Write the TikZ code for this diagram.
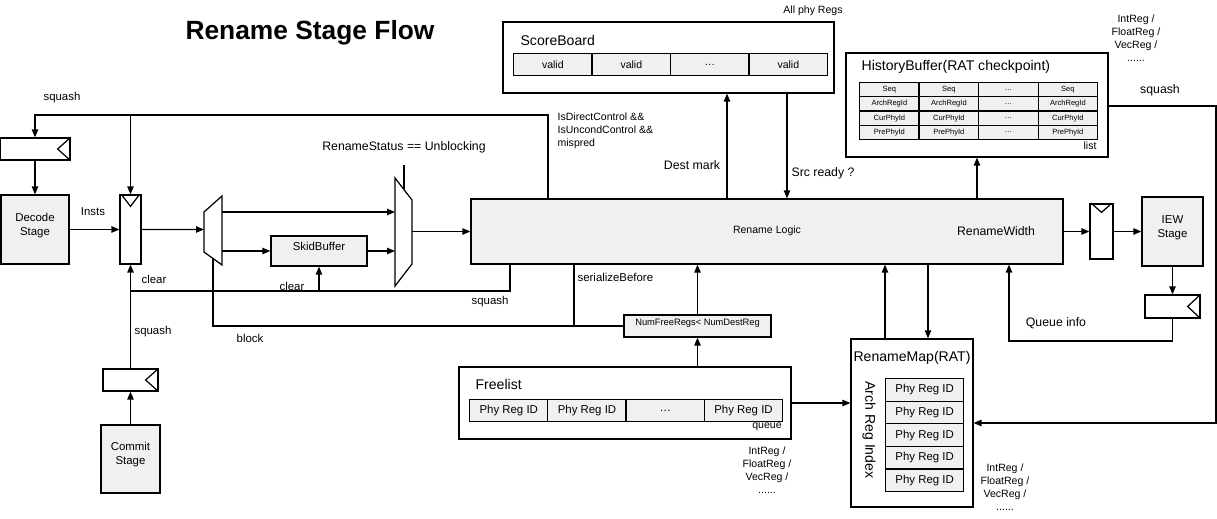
\documentclass[tikz,border=0pt]{standalone}
\usepackage{fontspec}
\setmainfont{Liberation Sans}
\usepackage{tikz}
\usetikzlibrary{positioning, arrows.meta, calc, fit}
\definecolor{CajaGris}{RGB}{240,240,240}

\tikzset{
  caja/.style={rectangle, draw, inner sep=0pt, align=center},
  cajagris/.style={caja, fill=CajaGris},
  celda/.style={rectangle, draw, fill=CajaGris, inner sep=0pt, anchor=north west, font=\fontsize{6}{7}\selectfont},
  etiq/.style={inner sep=0pt, align=center},
  tituloCaja/.style={inner sep=0pt, anchor=west, font=\fontsize{8}{9.6}\selectfont},
  flecha/.style={->},
}

\begin{document}
\begin{tikzpicture}[x=0.02cm, y=-0.02cm, >={Triangle[length=4.5pt,width=3.6pt]}, line width=0.7pt, font=\fontsize{6.5}{8}\selectfont]
  \useasboundingbox (0,0) rectangle (1217,519);

  \node[etiq, font=\fontsize{15}{18}\selectfont\bfseries] (titulo) at (310,33) {Rename Stage Flow};

  % etapas y registros de pipeline
  \node[cajagris, fit={(1,195)(69,264)}] (decode) {Decode\\Stage};
  \node[cajagris, fit={(101,425)(160,493)}] (commit) {Commit\\Stage};
  \node[cajagris, fit={(1142,197)(1203,266)}] (iew) {IEW\\Stage};
  \node[caja, fit={(0,138)(70,160)}] (regsq) {};
  \node[caja, fit={(120,195)(141,264)}] (regdec) {};
  \node[caja, fit={(103,369)(158,391)}] (regcom) {};
  \node[caja, fit={(1090,204)(1113,259)}] (regiew) {};
  \node[caja, fit={(1145,295)(1200,318)}] (regq) {};
  \foreach \r in {regsq, regcom, regq}
    \draw (\r.north east) -- ($(\r.east)+(-13,0)$) -- (\r.south east);
  \draw ($(regdec.north west)+(2,0)$) -- ($(regdec.north)+(0,12)$) -- ($(regdec.north east)+(-2,0)$);
  \draw ($(regiew.north west)+(2,0)$) -- ($(regiew.north)+(0,9)$) -- ($(regiew.north east)+(-2,0)$);

  % muxes
  \draw (204,212) -- (222,196) -- (222,265) -- (204,252) -- cycle;
  \draw (395,178) -- (412,200) -- (412,264) -- (395,286) -- cycle;
  \coordinate (m1in) at (204,229.5);
  \coordinate (m1a) at (222,212);
  \coordinate (m1b) at (222,251);
  \coordinate (m1sel) at (213,258.5);
  \coordinate (m2a) at (395,212);
  \coordinate (m2b) at (395,251);
  \coordinate (m2out) at (412,231.5);
  \coordinate (m2sel) at (404,189.5);
  \coordinate (m2top) at (404,165);

  \node[cajagris, fit={(271,236)(367,266)}] (skid) {SkidBuffer};
  \node[cajagris, fit={(471,199)(1063,264)}] (logic) {};
  \node[etiq, font=\fontsize{6}{7}\selectfont] (logictxt) at (767,231) {Rename Logic};
  \node[etiq, font=\fontsize{7}{8}\selectfont] (renwidth) at (996,231) {RenameWidth};
  \node[cajagris, fit={(624,315)(771,337)}, font=\fontsize{5.3}{6}\selectfont] (numfree) {NumFreeRegs< NumDestReg};

  % scoreboard
  \node[caja, fit={(503,22)(834,93)}] (sb) {};
  \node[tituloCaja] (sbtit) at (520,40) {ScoreBoard};
  \foreach \t [count=\i] in {valid, valid, \ldots, valid}
    \node[celda, minimum width=1.57cm, minimum height=0.44cm] (sb\i) at ({513+(\i-1)*78.5},53) {\t};
  \node[etiq, font=\fontsize{6}{7}\selectfont] (allregs) at (813,11) {All phy Regs};

  % history buffer
  \node[caja, fit={(846,53)(1108,157)}] (hist) {};
  \node[tituloCaja] (histtit) at (861,67) {HistoryBuffer(RAT checkpoint)};
  \foreach \t [count=\f] in {Seq, ArchRegId, CurPhyId, PrePhyId}
    \foreach \c in {1,...,4} {
      \ifnum\c=3 \def\txt{\ldots}\else\let\txt\t\fi
      \node[celda, font=\fontsize{4.3}{5}\selectfont, minimum width=1.19cm, minimum height=0.285cm] (hb\f\c) at ({859+(\c-1)*59.5},{82+(\f-1)*14.25}) {\txt};
    }
  \node[etiq, font=\fontsize{6}{7}\selectfont] (hblist) at (1090,146) {list};
  \node[etiq, font=\fontsize{6}{7.4}\selectfont] (tipos1) at (1136,38) {IntReg /\\FloatReg /\\VecReg /\\......};

  % freelist
  \node[caja, fit={(459,367)(791,439)}] (freelist) {};
  \node[tituloCaja] (fltit) at (475,384) {Freelist};
  \foreach \t [count=\i] in {Phy Reg ID, Phy Reg ID, \ldots, Phy Reg ID}
    \node[celda, font=\fontsize{6.5}{8}\selectfont, minimum width=1.565cm, minimum height=0.44cm] (fl\i) at ({469+(\i-1)*78.25},399) {\t};
  \node[etiq, font=\fontsize{6}{7}\selectfont] (flqueue) at (767,427) {queue};
  \node[etiq, font=\fontsize{6}{7.4}\selectfont] (tipos2) at (767,470) {IntReg /\\FloatReg /\\VecReg /\\......};

  % rename map
  \node[caja, fit={(851,339)(973,507)}] (ratmap) {};
  \node[etiq, font=\fontsize{8}{9.6}\selectfont] (rattit) at (912,358) {RenameMap(RAT)};
  \node[etiq, rotate=-90, font=\fontsize{8}{9.6}\selectfont] (archidx) at (869,430) {Arch Reg Index};
  \foreach \i in {1,...,5}
    \node[celda, font=\fontsize{6.5}{8}\selectfont, minimum width=1.56cm, minimum height=0.452cm] (rm\i) at (885,{378+(\i-1)*22.6}) {Phy Reg ID};
  \node[etiq, font=\fontsize{6}{7.4}\selectfont] (tipos3) at (1005,487) {IntReg /\\FloatReg /\\VecReg /\\......};

  % camino principal
  \draw[flecha] (regsq) -- (decode);
  \draw[flecha] (decode) -- (regdec);
  \node[etiq] (lblinsts) at (93,212) {Insts};
  \draw[flecha] (regdec) -- (m1in);
  \draw[flecha] (m1a) -- (m2a);
  \draw[flecha] (m1b) -- (skid.west |- m1b);
  \draw[flecha] (skid.east) -- (m2b);
  \draw[flecha] (m2out) -- (m2out -| logic.west);
  \draw (m2top) -- (m2sel);
  \node[etiq, font=\fontsize{7}{8}\selectfont] (lblstatus) at (404,147) {RenameStatus == Unblocking};
  \draw[flecha] (logic.east |- regiew) -- (regiew);
  \draw[flecha] (regiew) -- (iew);
  \draw[flecha] (iew) -- (regq);

  % squash desde rename logic
  \coordinate (sqtop) at (548,115);
  \draw[flecha] (logic.north -| sqtop) |- (regsq.north |- sqtop) -- (regsq.north);
  \draw[flecha] (regdec.north |- sqtop) -- (regdec.north);
  \node[etiq] (lblsq1) at (62,98) {squash};
  \node[etiq, anchor=north west, align=left, font=\fontsize{6}{7.6}\selectfont] (lblctrl) at (557,112) {IsDirectControl \&\&\\IsUncondControl \&\&\\mispred};

  % commit
  \draw[flecha] (commit) -- (regcom);
  \draw[flecha] (regcom) -- (regdec);
  \node[etiq] (lblsq2) at (153,332) {squash};

  % clear
  \coordinate (clr) at (510,291);
  \draw (logic.south -| clr) |- (regcom.north |- clr);
  \draw[flecha] (skid.south |- clr) -- (skid.south);
  \node[etiq] (lblclr1) at (154,279) {clear};
  \node[etiq] (lblclr2) at (292,286) {clear};
  \node[etiq] (lblsq3) at (490,302) {squash};

  % block
  \coordinate (blk) at (574,326);
  \draw (logic.south -| blk) -- (blk);
  \draw (numfree.west) -- (numfree.west -| m1sel) -- (m1sel);
  \node[etiq] (lblblock) at (250,338) {block};
  \node[etiq, anchor=west] (lblser) at (577,277) {serializeBefore};

  % freelist, numfree
  \draw[flecha] (freelist.north -| numfree) -- (numfree.south);
  \draw[flecha] (numfree.north) -- (numfree.north |- logic.south);
  \draw[flecha] (freelist.east) -- (freelist.east -| ratmap.west);

  % scoreboard
  \coordinate (dmark) at (727,150);
  \coordinate (sready) at (787,150);
  \draw[flecha] (logic.north -| dmark) -- (sb.south -| dmark);
  \draw[flecha] (sb.south -| sready) -- (logic.north -| sready);
  \node[etiq, font=\fontsize{7}{8}\selectfont] (lbldest) at (692,165) {Dest mark};
  \node[etiq, font=\fontsize{7}{8}\selectfont] (lblsrc) at (823,173) {Src ready ?};

  % history buffer
  \draw[flecha] (logic.north -| hist) -- (hist.south);
  \coordinate (hsq) at (1216,106);
  \draw[flecha] (hist.east |- hsq) -- (hsq) |- (ratmap.east);
  \node[etiq, font=\fontsize{7}{8}\selectfont] (lblsq4) at (1160,90) {squash};

  % rename map
  \coordinate (rmup) at (885,300);
  \coordinate (rmdn) at (928,300);
  \draw[flecha] (ratmap.north -| rmup) -- (logic.south -| rmup);
  \draw[flecha] (logic.south -| rmdn) -- (ratmap.north -| rmdn);

  % queue info
  \coordinate (qi) at (1009,341);
  \draw[flecha] (regq.south) |- (qi) -- (logic.south -| qi);
  \node[etiq, font=\fontsize{7}{8}\selectfont] (lblqi) at (1056,323) {Queue info};
\end{tikzpicture}
\end{document}
